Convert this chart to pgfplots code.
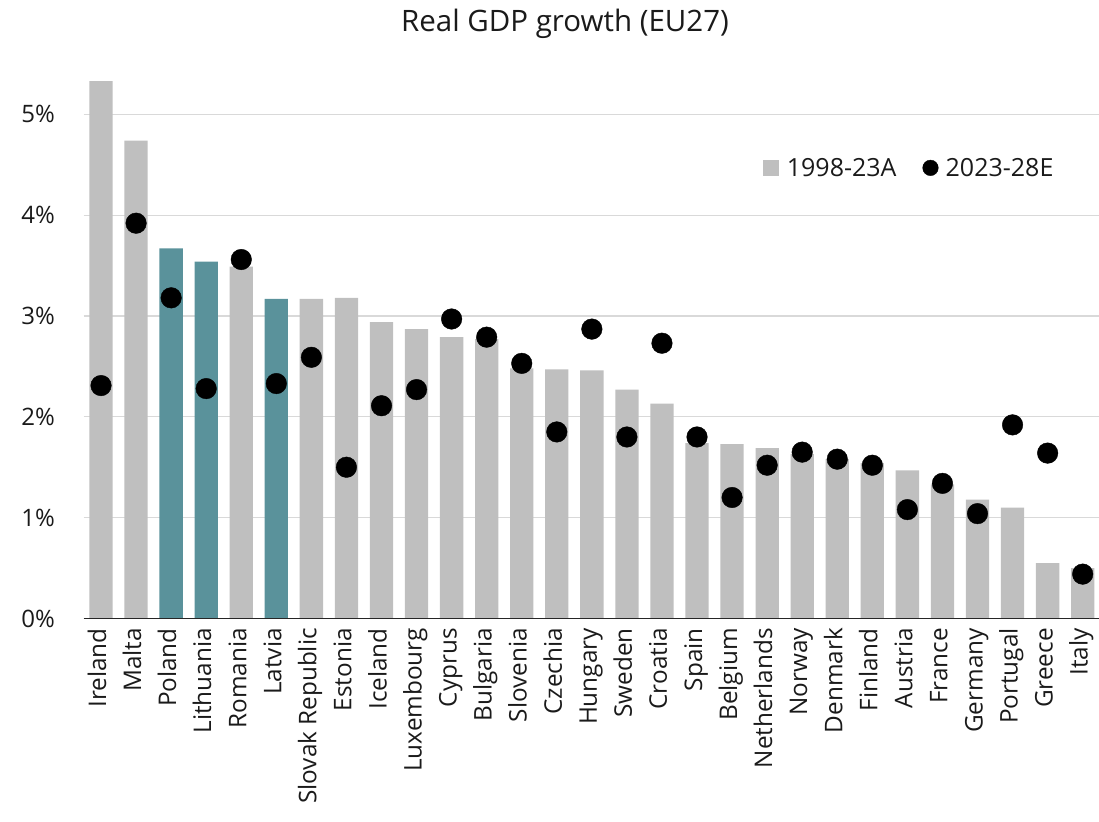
\documentclass[border=0pt]{standalone}
\usepackage{fontspec}
\setmainfont{Open Sans}
\usepackage{pgfplots}
\usepackage{pgfplotstable}
\pgfplotsset{compat=1.18}
\definecolor{barGray}{HTML}{BFBFBF}
\definecolor{barTeal}{HTML}{5A929B}
\definecolor{gridGray}{HTML}{D9D9D9}
\definecolor{txt}{HTML}{1A1A1A}

% 1998-23A, grey bars
\pgfplotstableread{
x bar
0 5.33
1 4.74
4 3.49
6 3.17
7 3.18
8 2.94
9 2.87
10 2.79
11 2.77
12 2.48
13 2.47
14 2.46
15 2.27
16 2.13
17 1.74
18 1.73
19 1.69
20 1.63
21 1.58
22 1.54
23 1.47
24 1.33
25 1.18
26 1.10
27 0.55
28 0.50
}\graytable

% 1998-23A, highlighted bars
\pgfplotstableread{
x bar
2 3.67
3 3.54
5 3.17
}\tealtable

% 2023-28E
\pgfplotstableread{
x dot
0 2.31
1 3.92
2 3.18
3 2.28
4 3.56
5 2.33
6 2.59
7 1.50
8 2.11
9 2.27
10 2.97
11 2.79
12 2.53
13 1.85
14 2.87
15 1.80
16 2.73
17 1.80
18 1.20
19 1.52
20 1.65
21 1.58
22 1.52
23 1.08
24 1.34
25 1.04
26 1.92
27 1.64
28 0.44
}\dottable

\begin{document}
\begin{tikzpicture}
\useasboundingbox (0,0) rectangle (1099pt,821pt);
\begin{axis}[
  at={(83.5pt,202.5pt)}, anchor=south west,
  scale only axis, width=1016.7pt, height=564.7pt,
  xmin=-0.5, xmax=28.5, ymin=0, ymax=5.6,
  axis line style={draw=none},
  tick style={draw=none},
  ytick={0,1,2,3,4,5},
  yticklabels={0\%,1\%,2\%,3\%,4\%,5\%},
  ymajorgrids,
  grid style={gridGray, line width=1.2pt},
  xtick={0,...,28},
  xticklabels={Ireland,Malta,Poland,Lithuania,Romania,Latvia,Slovak Republic,Estonia,Iceland,Luxembourg,Cyprus,Bulgaria,Slovenia,Czechia,Hungary,Sweden,Croatia,Spain,Belgium,Netherlands,Norway,Denmark,Finland,Austria,France,Germany,Portugal,Greece,Italy},
  xticklabel style={yshift=-9.5pt, rotate=90, anchor=east, text height=1em, text depth=0pt, inner sep=0pt, font=\fontsize{24.3}{28}\selectfont, text=txt},
  yticklabel style={xshift=-28.5pt, anchor=east, inner sep=0pt, font=\fontsize{24}{28}\selectfont, text=txt},
  legend style={at={(0.668,0.798)}, anchor=west, draw=none, fill=none, inner sep=0pt,
    font=\fontsize{25}{28}\selectfont, text=txt, legend columns=2, legend cell align=left,
    /tikz/every even column/.append style={column sep=24pt}},
]
\addplot[ybar, bar width=23.3pt, bar shift=0pt, fill=barGray, draw=none,
  legend image code/.code={\fill[barGray] (0pt,-8pt) rectangle (16pt,8pt); \path[draw=none, fill=none] (0pt,0pt) -- (22pt,0pt);}]
  table[x=x, y=bar]{\graytable};
\addlegendentry{1998-23A}
\addplot[ybar, bar width=23.3pt, bar shift=0pt, fill=barTeal, draw=none, forget plot]
  table[x=x, y=bar]{\tealtable};
\addplot[only marks, mark=*, mark size=10.3pt, color=black,
  legend image code/.code={\fill[black] (7.8pt,0pt) circle (7.8pt); \path[draw=none, fill=none] (0pt,0pt) -- (21pt,0pt);}]
  table[x=x, y=dot]{\dottable};
\addlegendentry{2023-28E}
\draw[black!85, line width=1.5pt] (axis cs:-0.5,0) -- (axis cs:28.5,0);
\end{axis}
\node[anchor=base, font=\fontsize{29.5}{34}\selectfont, text=txt] at (565pt,789pt) {Real GDP growth (EU27)};
\end{tikzpicture}
\end{document}
